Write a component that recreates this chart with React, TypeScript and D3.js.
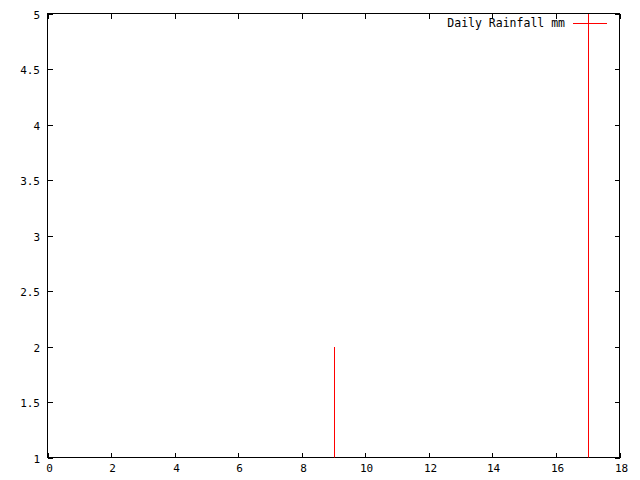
import React, { useEffect, useRef } from "react";
import * as d3 from "d3";

const days = [9, 17];
const rainfall = [2, 5];
const xTicks = [0, 2, 4, 6, 8, 10, 12, 14, 16, 18];
const yTicks = [1, 1.5, 2, 2.5, 3, 3.5, 4, 4.5, 5];
const seriesName = "Daily Rainfall mm";

const App = () => {
  const ref = useRef<SVGSVGElement>(null);

  useEffect(() => {
    const svg = d3.select(ref.current);
    svg.selectAll("*").remove();

    const left = 47.5;
    const right = 619.5;
    const top = 13.5;
    const bottom = 457.5;
    const font = "'DejaVu Sans Mono', 'Liberation Mono', monospace";

    const x = d3.scaleLinear().domain([0, 18]).range([left, right]);
    const y = d3.scaleLinear().domain([1, 5]).range([bottom, top]);

    svg.append("rect").attr("width", 640).attr("height", 480).attr("fill", "#fff");

    const g = svg.append("g").attr("shape-rendering", "crispEdges");

    // ticks, mirrored on all sides
    xTicks.forEach((t) => {
      const px = Math.round(x(t)) + 0.5;
      g.append("line").attr("x1", px).attr("x2", px).attr("y1", bottom).attr("y2", bottom - 5).attr("stroke", "#000");
      g.append("line").attr("x1", px).attr("x2", px).attr("y1", top).attr("y2", top + 5).attr("stroke", "#000");
      svg
        .append("text")
        .attr("x", px + 1)
        .attr("y", bottom + 14)
        .attr("text-anchor", "middle")
        .attr("font-family", font)
        .attr("font-size", 11)
        .text(t);
    });
    yTicks.forEach((t) => {
      const py = Math.round(y(t)) + 0.5;
      g.append("line").attr("x1", left).attr("x2", left + 5).attr("y1", py).attr("y2", py).attr("stroke", "#000");
      g.append("line").attr("x1", right).attr("x2", right - 5).attr("y1", py).attr("y2", py).attr("stroke", "#000");
      svg
        .append("text")
        .attr("x", 40)
        .attr("y", py + 4)
        .attr("text-anchor", "end")
        .attr("font-family", font)
        .attr("font-size", 11)
        .text(t);
    });

    // legend
    svg
      .append("text")
      .attr("x", 565)
      .attr("y", 27)
      .attr("text-anchor", "end")
      .attr("font-family", font)
      .attr("font-size", 11.5)
      .text(seriesName);
    g.append("line")
      .attr("x1", 573)
      .attr("x2", 607)
      .attr("y1", 23.5)
      .attr("y2", 23.5)
      .attr("stroke", "#ff0000");

    // frame
    g.append("rect")
      .attr("x", left)
      .attr("y", top)
      .attr("width", right - left)
      .attr("height", bottom - top)
      .attr("fill", "none")
      .attr("stroke", "#000");

    // impulses, clipped to the plot area
    svg
      .append("clipPath")
      .attr("id", "plotClip")
      .append("rect")
      .attr("x", left)
      .attr("y", top)
      .attr("width", right - left)
      .attr("height", bottom - top);

    svg
      .append("g")
      .attr("clip-path", "url(#plotClip)")
      .attr("shape-rendering", "crispEdges")
      .selectAll("line")
      .data(days)
      .join("line")
      .attr("x1", (d) => Math.round(x(d)) + 0.5)
      .attr("x2", (d) => Math.round(x(d)) + 0.5)
      .attr("y1", bottom)
      .attr("y2", (d, i) => y(rainfall[i]))
      .attr("stroke", "#ff0000");
  }, []);

  return <svg ref={ref} width={640} height={480} style={{ display: "block", margin: -8 }} />;
};

export default App;
